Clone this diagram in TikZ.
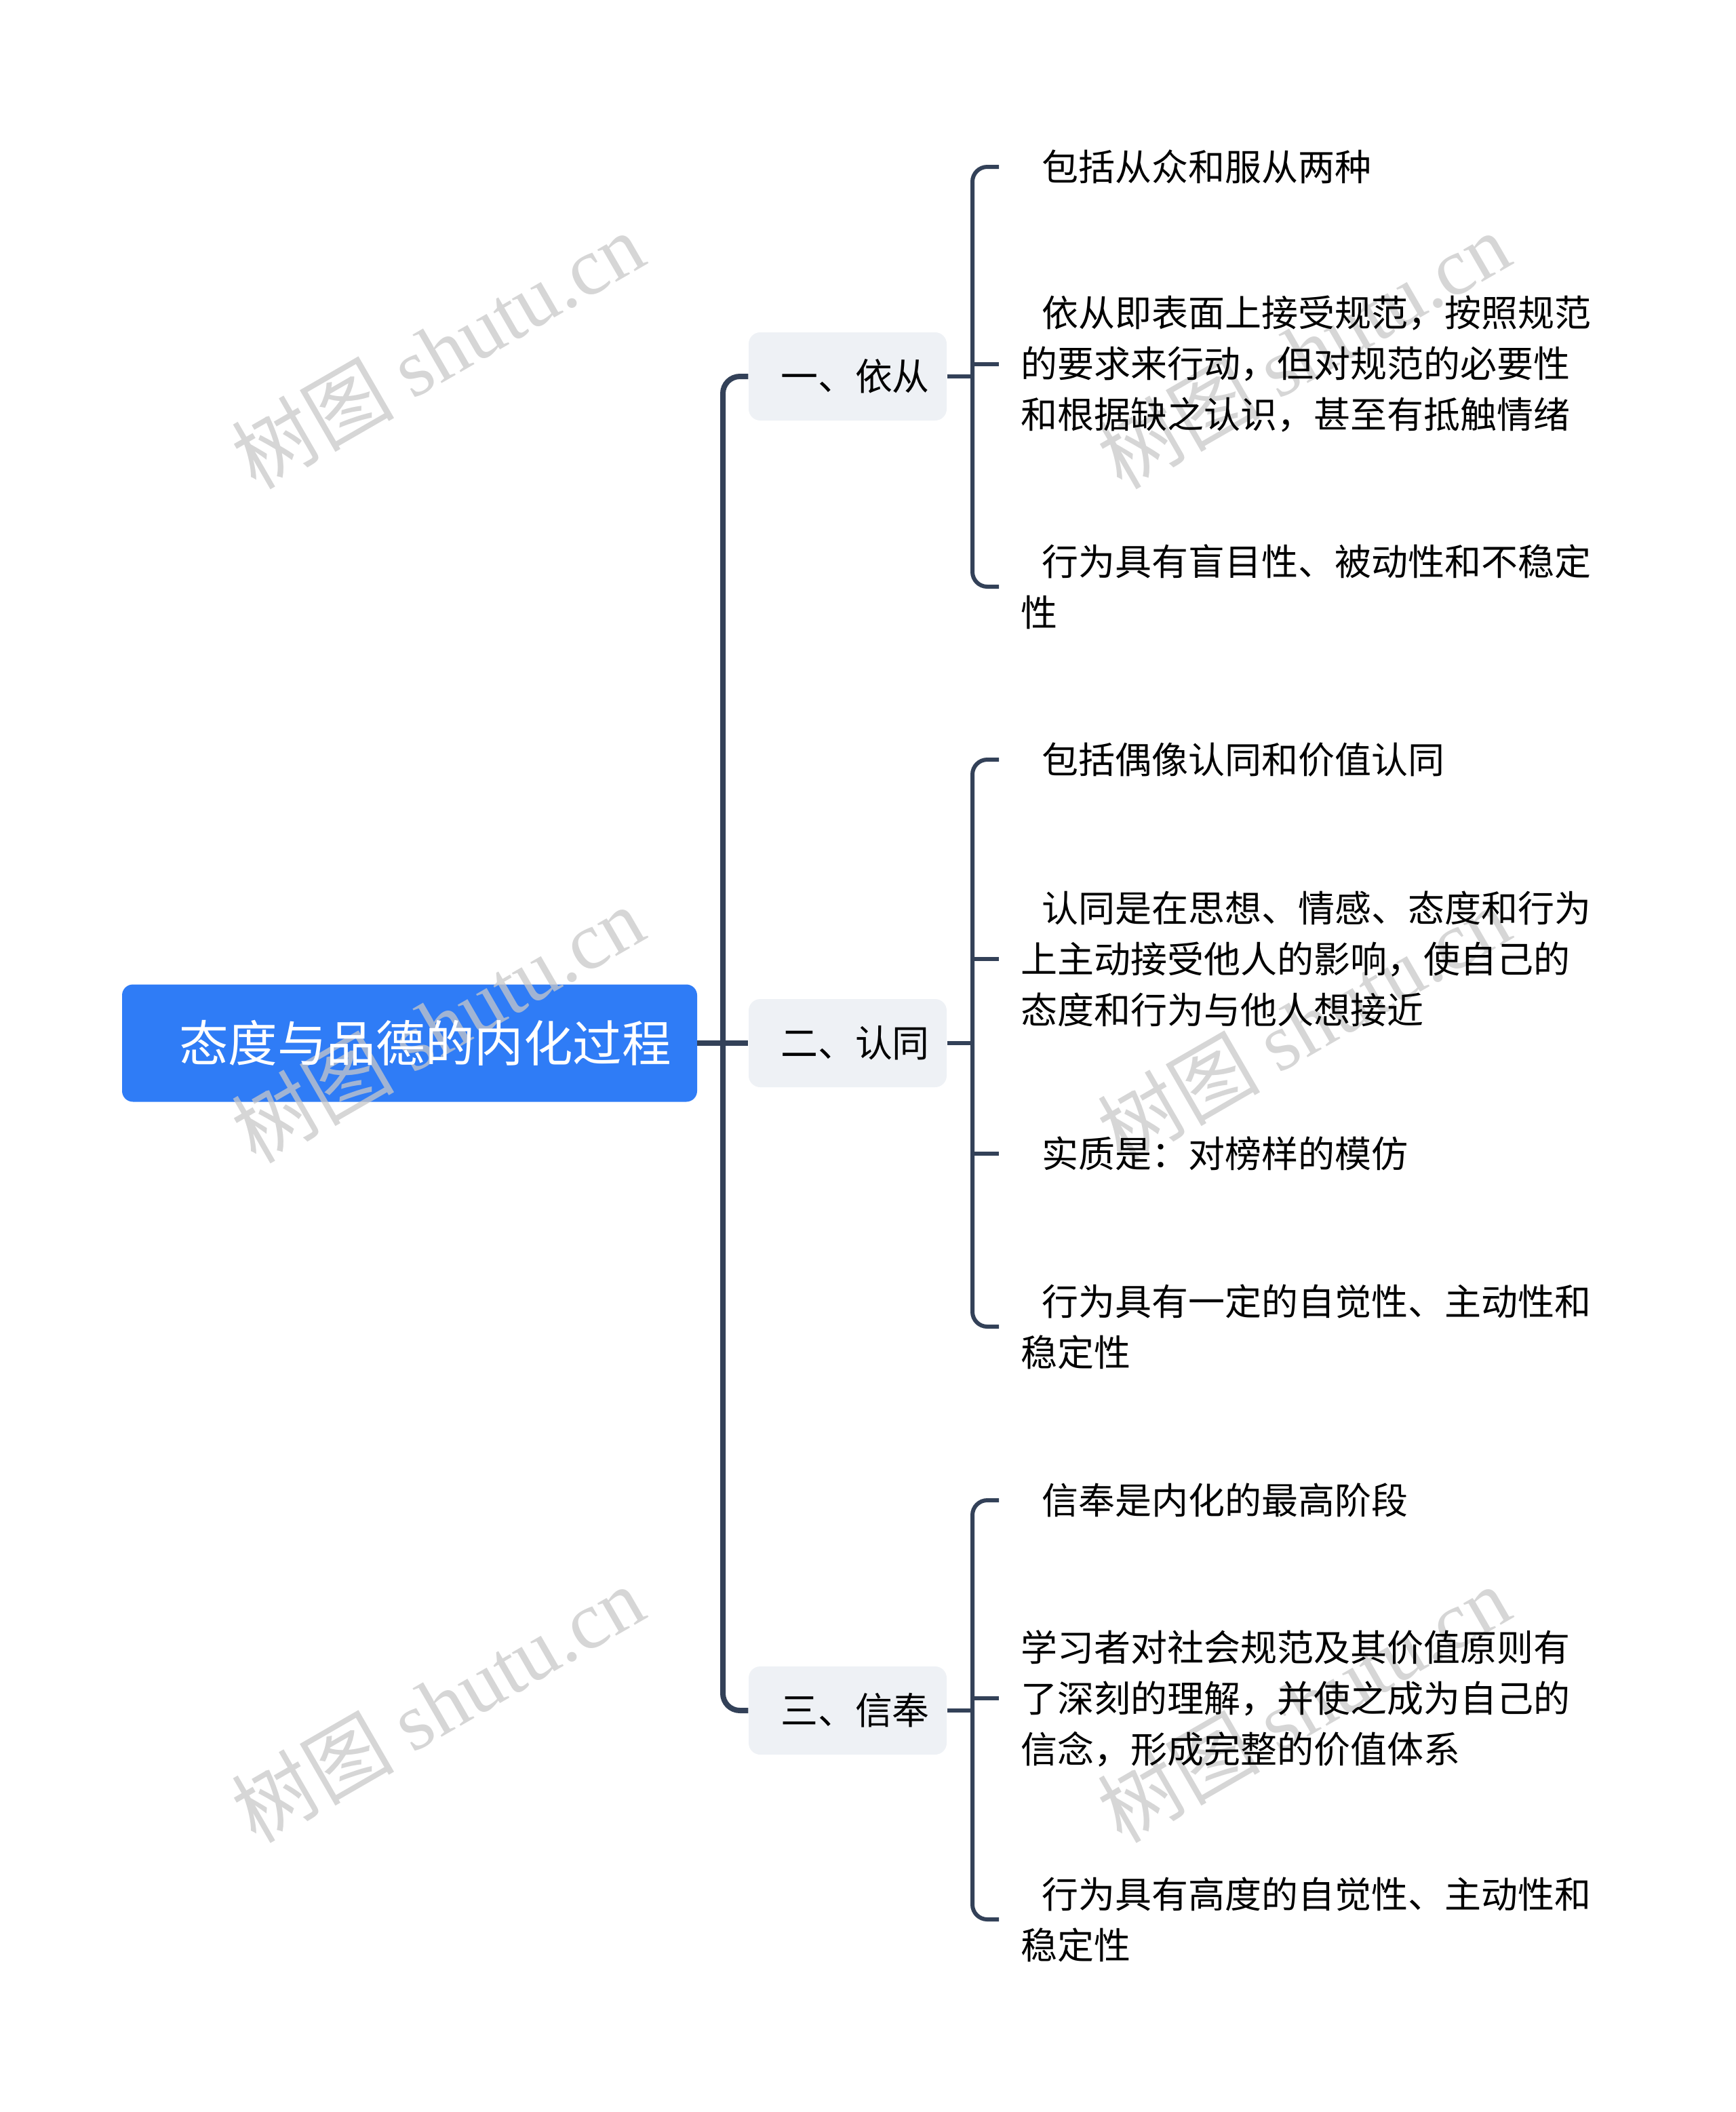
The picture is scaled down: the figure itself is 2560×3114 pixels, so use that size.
\documentclass[tikz,border=0pt]{standalone}
\usepackage{fontspec}
\newfontfamily\cjk{Noto Sans CJK SC}
\newfontfamily\wmserif{Liberation Serif}
\usetikzlibrary{positioning}

\definecolor{rootblue}{RGB}{47,124,246}
\definecolor{branchgray}{RGB}{238,241,245}
\definecolor{linkslate}{RGB}{51,65,88}
\definecolor{markgray}{RGB}{200,200,200}

\pgfdeclarelayer{boxes}
\pgfdeclarelayer{marks}
\pgfsetlayers{boxes,marks,main}

\tikzset{every picture/.style={line width=0.75pt}}
\tikzset{
  rootnode/.style={minimum width=317.25pt, minimum height=64.125pt, inner sep=0pt, text=white, font=\fontsize{27.2pt}{32pt}\selectfont\cjk},
  branchnode/.style={fill=branchgray, rounded corners=6.4pt, minimum width=109.5pt, minimum height=48.75pt, inner sep=0pt, font=\fontsize{20.6pt}{24pt}\selectfont\cjk},
  leafnode/.style={anchor=west, align=left, inner sep=0pt, font=\fontsize{20.25pt}{28.125pt}\selectfont\cjk},
  trunk/.style={draw=linkslate, line width=3pt, rounded corners=9.4pt},
  brace/.style={draw=linkslate, line width=2.25pt, rounded corners=8.2pt},
  watermark/.style={text=markgray, opacity=0.75, rotate=30, inner sep=0pt, font=\fontsize{45pt}{50pt}\selectfont}
}

\begin{document}
\begin{tikzpicture}[x=0.375pt,y=0.375pt,yscale=-1,xscale=1]
\useasboundingbox (0,0) rectangle (2560,3114);
%Root
\node[rootnode] (root) at (604,1538) {\hspace*{17.25pt}态度与品德的内化过程};
\begin{pgfonlayer}{boxes}
\fill[rootblue, rounded corners=6pt] (root.south west) rectangle (root.north east);
\end{pgfonlayer}
%Branches
\node[branchnode] (yicong) at (1250,555) {\hspace*{8.25pt}一、依从};
\node[branchnode] (rentong) at (1250,1538) {\hspace*{8.25pt}二、认同};
\node[branchnode] (xinfeng) at (1250,2522) {\hspace*{8.25pt}三、信奉};
%Leaves of yicong
\node[leafnode] (l11) at (1505,246) {\hspace*{11.5pt}包括从众和服从两种};
\node[leafnode] (l12) at (1505,537) {\hspace*{11.5pt}依从即表面上接受规范，按照规范\\的要求来行动，但对规范的必要性\\和根据缺之认识，甚至有抵触情绪};
\node[leafnode] (l13) at (1505,865) {\hspace*{11.5pt}行为具有盲目性、被动性和不稳定\\性};
%Leaves of rentong
\node[leafnode] (l21) at (1505,1120) {\hspace*{11.5pt}包括偶像认同和价值认同};
\node[leafnode] (l22) at (1505,1414) {\hspace*{11.5pt}认同是在思想、情感、态度和行为\\上主动接受他人的影响，使自己的\\态度和行为与他人想接近};
\node[leafnode] (l23) at (1505,1701) {\hspace*{11.5pt}实质是：对榜样的模仿};
\node[leafnode] (l24) at (1505,1956) {\hspace*{11.5pt}行为具有一定的自觉性、主动性和\\稳定性};
%Leaves of xinfeng
\node[leafnode] (l31) at (1505,2212) {\hspace*{11.5pt}信奉是内化的最高阶段};
\node[leafnode] (l32) at (1505,2504) {学习者对社会规范及其价值原则有\\了深刻的理解，并使之成为自己的\\信念，形成完整的价值体系};
\node[leafnode] (l33) at (1505,2830) {\hspace*{11.5pt}行为具有高度的自觉性、主动性和\\稳定性};
%Knees
\coordinate (trunkx) at (1066,1538);
\coordinate (k1) at (1434,555);
\coordinate (k2) at (1434,1538);
\coordinate (k3) at (1434,2522);
%Trunk
\draw[trunk] (root.east) -- (rentong.west);
\draw[trunk] (yicong.west) -| (trunkx) |- (xinfeng.west);
%Brackets
\draw[brace] (yicong.east) -- (k1);
\draw[brace] ([xshift=-12pt]l11.west) -| (k1) |- ([xshift=-12pt]l13.west);
\draw[brace] ([xshift=-12pt]l12.west) -- (l12.west -| k1);
\draw[brace] (rentong.east) -- (k2);
\draw[brace] ([xshift=-12pt]l21.west) -| (k2) |- ([xshift=-12pt]l24.west);
\draw[brace] ([xshift=-12pt]l22.west) -- (l22.west -| k2);
\draw[brace] ([xshift=-12pt]l23.west) -- (l23.west -| k2);
\draw[brace] (xinfeng.east) -- (k3);
\draw[brace] ([xshift=-12pt]l31.west) -| (k3) |- ([xshift=-12pt]l33.west);
\draw[brace] ([xshift=-12pt]l32.west) -- (l32.west -| k3);
%Watermarks
\begin{pgfonlayer}{marks}
\foreach \mx/\my [count=\i] in {645/516,1922/516,645/1510,1922/1510,645/2512,1922/2512}
  \node[watermark] (mark\i) at (\mx,\my) {\cjk 树图 \wmserif shutu.cn};
\end{pgfonlayer}
\end{tikzpicture}
\end{document}
